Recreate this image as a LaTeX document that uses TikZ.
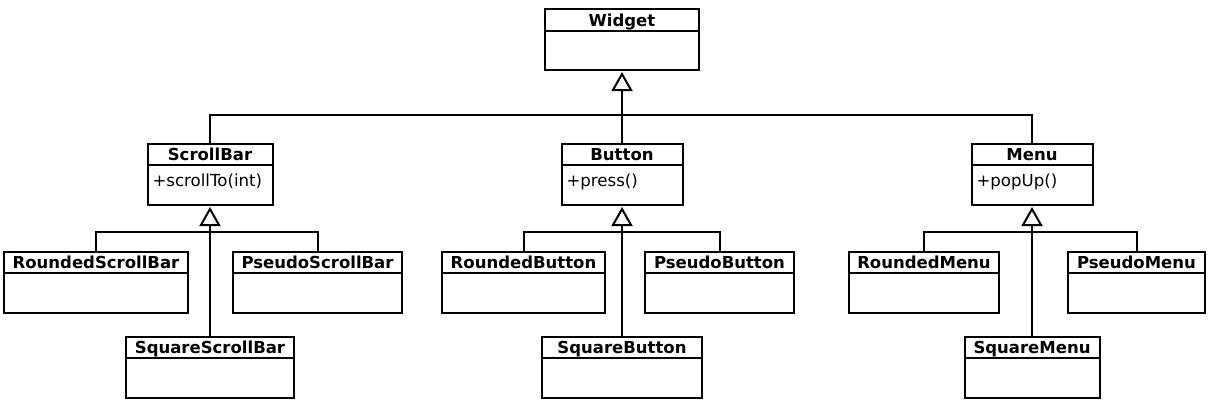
\documentclass[tikz,border=0pt]{standalone}
\usepackage{fontspec}
\setmainfont{DejaVu Sans}
\usepackage{tikz}
\usetikzlibrary{arrows.meta}
\tikzstyle{gen} = [-{Triangle[open,length=19pt,width=21pt]},shorten >=1pt]
\tikzstyle{classbox} = [draw,rectangle,minimum height=61pt,inner sep=0pt]
\tikzstyle{classname} = [draw,rectangle,anchor=north,minimum height=21pt,inner sep=0pt,text height=12.5pt,text depth=0pt,font=\fontsize{16.5pt}{19pt}\selectfont\bfseries]
\tikzstyle{classop} = [anchor=north west,inner xsep=5pt,inner ysep=6pt,text height=13pt,text depth=3pt,font=\fontsize{16.6pt}{19pt}\selectfont]

\begin{document}
\begin{tikzpicture}[yscale=-1,line width=2pt]
	\useasboundingbox (0pt,0pt) rectangle (1218pt,412pt);
	% top
	\node[classbox,minimum width=154pt] (widget) at (622pt,39.5pt) {};
	\node[classname,minimum width=154pt,minimum height=22pt] (widget-name) at (widget.north) {Widget};
	% second row
	\node[classbox,minimum width=125pt] (scrollbar) at (210pt,174.5pt) {};
	\node[classname,minimum width=125pt] (scrollbar-name) at (scrollbar.north) {ScrollBar};
	\node[classop] (scrollbar-op) at (scrollbar-name.south west) {+scrollTo(int)};
	\node[classbox,minimum width=121pt] (button) at (622pt,174.5pt) {};
	\node[classname,minimum width=121pt] (button-name) at (button.north) {Button};
	\node[classop] (button-op) at (button-name.south west) {+press()};
	\node[classbox,minimum width=121pt] (menu) at (1032pt,174.5pt) {};
	\node[classname,minimum width=121pt] (menu-name) at (menu.north) {Menu};
	\node[classop] (menu-op) at (menu-name.south west) {+popUp()};
	% third row
	\node[classbox,minimum width=184pt] (roundedsb) at (96pt,282.5pt) {};
	\node[classname,minimum width=184pt] (roundedsb-name) at (roundedsb.north) {RoundedScrollBar};
	\node[classbox,minimum width=169pt] (pseudosb) at (317.5pt,282.5pt) {};
	\node[classname,minimum width=169pt] (pseudosb-name) at (pseudosb.north) {PseudoScrollBar};
	\node[classbox,minimum width=163pt] (roundedbtn) at (523.5pt,282.5pt) {};
	\node[classname,minimum width=163pt] (roundedbtn-name) at (roundedbtn.north) {RoundedButton};
	\node[classbox,minimum width=149pt] (pseudobtn) at (719.5pt,282.5pt) {};
	\node[classname,minimum width=149pt] (pseudobtn-name) at (pseudobtn.north) {PseudoButton};
	\node[classbox,minimum width=150pt] (roundedmenu) at (924pt,282.5pt) {};
	\node[classname,minimum width=150pt] (roundedmenu-name) at (roundedmenu.north) {RoundedMenu};
	\node[classbox,minimum width=137pt] (pseudomenu) at (1136.5pt,282.5pt) {};
	\node[classname,minimum width=137pt] (pseudomenu-name) at (pseudomenu.north) {PseudoMenu};
	% bottom row
	\node[classbox,minimum width=168pt] (squaresb) at (210pt,367.5pt) {};
	\node[classname,minimum width=168pt] (squaresb-name) at (squaresb.north) {SquareScrollBar};
	\node[classbox,minimum width=160pt] (squarebtn) at (622pt,367.5pt) {};
	\node[classname,minimum width=160pt] (squarebtn-name) at (squarebtn.north) {SquareButton};
	\node[classbox,minimum width=135pt] (squaremenu) at (1032pt,367.5pt) {};
	\node[classname,minimum width=135pt] (squaremenu-name) at (squaremenu.north) {SquareMenu};
	% inheritance
	\coordinate (widget-join) at (622pt,115pt);
	\coordinate (scrollbar-join) at (210pt,232pt);
	\coordinate (button-join) at (622pt,232pt);
	\coordinate (menu-join) at (1032pt,232pt);
	\draw (scrollbar-name.north) |- (widget-join) -| (menu-name.north);
	\draw[gen] (button-name.north) -- (widget.south);
	\draw (roundedsb-name.north) |- (scrollbar-join) -| (pseudosb-name.north);
	\draw[gen] (squaresb-name.north) -- (scrollbar.south);
	\draw (roundedbtn-name.north) |- (button-join) -| (pseudobtn-name.north);
	\draw[gen] (squarebtn-name.north) -- (button.south);
	\draw (roundedmenu-name.north) |- (menu-join) -| (pseudomenu-name.north);
	\draw[gen] (squaremenu-name.north) -- (menu.south);
\end{tikzpicture}
\end{document}
